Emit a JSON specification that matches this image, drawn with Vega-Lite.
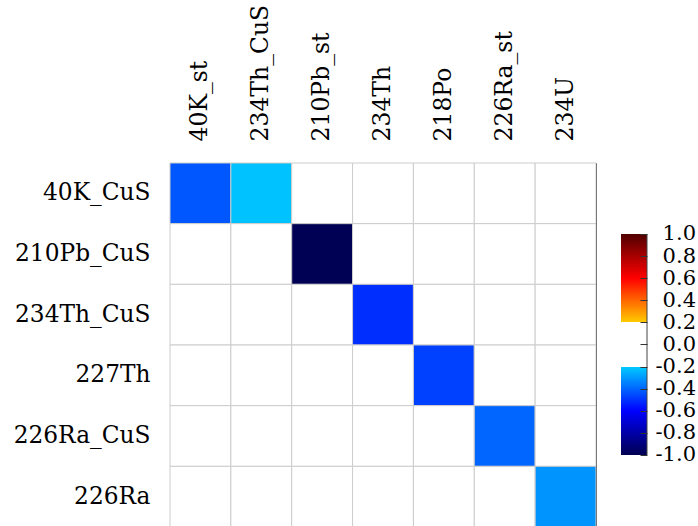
{
  "$schema": "https://vega.github.io/schema/vega-lite/v6.json",
  "padding": {"left": 12, "top": 3, "right": 3, "bottom": 0},
  "background": "white",
  "spacing": 24,
  "config": {
    "view": {"stroke": "#222222", "strokeWidth": 1},
    "font": "DejaVu Serif",
    "axis": {"labelFont": "DejaVu Serif", "labelColor": "#000000", "titleFont": "DejaVu Serif"}
  },
  "datasets": {
    "cells": [
      {"r": "40K_CuS", "c": "40K_st", "v": -0.43},
      {"r": "40K_CuS", "c": "234Th_CuS", "v": -0.22},
      {"r": "40K_CuS", "c": "210Pb_st", "v": 0},
      {"r": "40K_CuS", "c": "234Th", "v": 0},
      {"r": "40K_CuS", "c": "218Po", "v": 0},
      {"r": "40K_CuS", "c": "226Ra_st", "v": 0},
      {"r": "40K_CuS", "c": "234U", "v": 0},
      {"r": "210Pb_CuS", "c": "40K_st", "v": 0},
      {"r": "210Pb_CuS", "c": "234Th_CuS", "v": 0},
      {"r": "210Pb_CuS", "c": "210Pb_st", "v": -0.99},
      {"r": "210Pb_CuS", "c": "234Th", "v": 0},
      {"r": "210Pb_CuS", "c": "218Po", "v": 0},
      {"r": "210Pb_CuS", "c": "226Ra_st", "v": 0},
      {"r": "210Pb_CuS", "c": "234U", "v": 0},
      {"r": "234Th_CuS", "c": "40K_st", "v": 0},
      {"r": "234Th_CuS", "c": "234Th_CuS", "v": 0},
      {"r": "234Th_CuS", "c": "210Pb_st", "v": 0},
      {"r": "234Th_CuS", "c": "234Th", "v": -0.51},
      {"r": "234Th_CuS", "c": "218Po", "v": 0},
      {"r": "234Th_CuS", "c": "226Ra_st", "v": 0},
      {"r": "234Th_CuS", "c": "234U", "v": 0},
      {"r": "227Th", "c": "40K_st", "v": 0},
      {"r": "227Th", "c": "234Th_CuS", "v": 0},
      {"r": "227Th", "c": "210Pb_st", "v": 0},
      {"r": "227Th", "c": "234Th", "v": 0},
      {"r": "227Th", "c": "218Po", "v": -0.475},
      {"r": "227Th", "c": "226Ra_st", "v": 0},
      {"r": "227Th", "c": "234U", "v": 0},
      {"r": "226Ra_CuS", "c": "40K_st", "v": 0},
      {"r": "226Ra_CuS", "c": "234Th_CuS", "v": 0},
      {"r": "226Ra_CuS", "c": "210Pb_st", "v": 0},
      {"r": "226Ra_CuS", "c": "234Th", "v": 0},
      {"r": "226Ra_CuS", "c": "218Po", "v": 0},
      {"r": "226Ra_CuS", "c": "226Ra_st", "v": -0.4},
      {"r": "226Ra_CuS", "c": "234U", "v": 0},
      {"r": "226Ra", "c": "40K_st", "v": 0},
      {"r": "226Ra", "c": "234Th_CuS", "v": 0},
      {"r": "226Ra", "c": "210Pb_st", "v": 0},
      {"r": "226Ra", "c": "234Th", "v": 0},
      {"r": "226Ra", "c": "218Po", "v": 0},
      {"r": "226Ra", "c": "226Ra_st", "v": 0},
      {"r": "226Ra", "c": "234U", "v": -0.31}
    ],
    "bar": [{"lo": -1, "hi": 1}]
  },
  "hconcat": [
    {
      "width": 426,
      "height": 364,
      "data": {"name": "cells"},
      "mark": {"type": "rect", "stroke": "#cccccc", "strokeWidth": 1},
      "encoding": {
        "x": {
          "field": "c", "type": "nominal",
          "sort": ["40K_st", "234Th_CuS", "210Pb_st", "234Th", "218Po", "226Ra_st", "234U"],
          "scale": {"paddingInner": 0, "paddingOuter": 0},
          "axis": {"orient": "top", "title": null, "labelAngle": -90, "ticks": false, "domain": false, "grid": false, "labelPadding": 22, "labelFontSize": 23.5}
        },
        "y": {
          "field": "r", "type": "nominal",
          "sort": ["40K_CuS", "210Pb_CuS", "234Th_CuS", "227Th", "226Ra_CuS", "226Ra"],
          "scale": {"paddingInner": 0, "paddingOuter": 0},
          "axis": {"title": null, "ticks": false, "domain": false, "grid": false, "labelPadding": 20, "labelFontSize": 23.3}
        },
        "color": {
          "field": "v", "type": "quantitative", "legend": null,
          "scale": {
            "domain": [-1, -0.6, -0.2, -0.1999, 0.1999, 0.2, 0.6, 1],
            "range": ["#000050", "#0000ff", "#00ccff", "#ffffff", "#ffffff", "#ffcc00", "#ff0000", "#500000"],
            "interpolate": "rgb"
          }
        }
      }
    },
    {
      "width": 26,
      "height": 364,
      "view": {"stroke": null},
      "data": {"name": "bar"},
      "encoding": {
        "y": {
          "field": "lo", "type": "quantitative",
          "scale": {"domain": [-1.6516, 1.6425], "nice": false, "zero": false},
          "axis": {
            "orient": "right", "title": null, "values": [-1, -0.8, -0.6, -0.4, -0.2, 0, 0.2, 0.4, 0.6, 0.8, 1],
            "domain": false, "grid": false, "tickSize": -7, "tickColor": "#333333", "tickWidth": 1, "zindex": 2,
            "labelPadding": 55.5, "labelAlign": "right", "labelBaseline": "middle", "labelFontSize": 21,
            "labelFlush": false, "labelOverlap": false,
            "labelExpr": "replace(format(datum.value, '.1f'), '\u2212', '-')"
          }
        },
        "y2": {"field": "hi"}
      },
      "layer": [
        {
          "mark": {
            "type": "rect",
            "fill": {
              "gradient": "linear", "x1": 0, "y1": 1, "x2": 0, "y2": 0,
              "stops": [
                {"offset": 0, "color": "#000050"},
                {"offset": 0.2, "color": "#0000ff"},
                {"offset": 0.4, "color": "#00ccff"},
                {"offset": 0.4, "color": "#ffffff"},
                {"offset": 0.6, "color": "#ffffff"},
                {"offset": 0.6, "color": "#ffcc00"},
                {"offset": 0.8, "color": "#ff0000"},
                {"offset": 1, "color": "#500000"}
              ]
            }
          },
          "encoding": {
            "x": {"datum": 0, "type": "quantitative", "scale": {"domain": [0, 1], "nice": false, "zero": false}, "axis": null},
            "x2": {"datum": 1}
          }
        },
        {
          "mark": {"type": "rule", "color": "#444444", "strokeWidth": 1},
          "encoding": {
            "x": {"datum": 1, "type": "quantitative"}
          }
        }
      ]
    }
  ]
}
